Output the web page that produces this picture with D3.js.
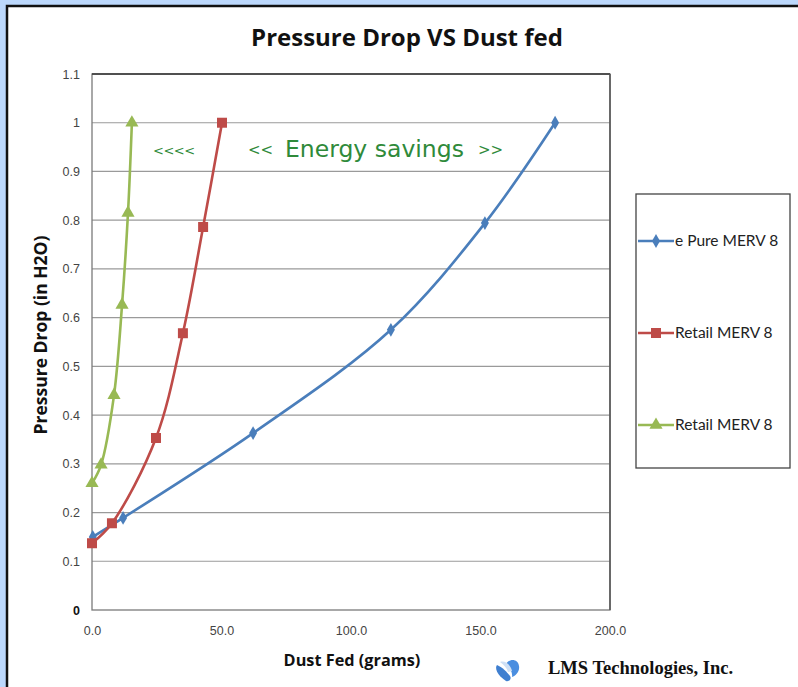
<!DOCTYPE html>
<html><head><meta charset="utf-8">
<script src="https://cdn.jsdelivr.net/npm/d3@7"></script>
<style>
html,body{margin:0;padding:0;background:#bcd8fc;}
svg{display:block;}
</style></head>
<body>
<script>
const seriesNames = ["e Pure MERV 8", "Retail MERV 8", "Retail MERV 8"];
const seriesColors = ["#4a7ebb", "#be4b48", "#98b954"];
const ePureX = [0.3, 12, 62.2, 115.4, 151.7, 178.8];
const ePureY = [0.150, 0.189, 0.363, 0.575, 0.794, 1.0];
const retailAX = [0, 7.7, 24.7, 35.1, 42.9, 50.2];
const retailAY = [0.137, 0.178, 0.353, 0.568, 0.786, 1.0];
const retailBX = [0, 3.5, 8.5, 11.6, 13.9, 15.4];
const retailBY = [0.26, 0.298, 0.441, 0.626, 0.815, 1.0];
const xTicks = [0, 50, 100, 150, 200];
const yTicks = [0, 0.1, 0.2, 0.3, 0.4, 0.5, 0.6, 0.7, 0.8, 0.9, 1, 1.1];

const W = 798, H = 687;
const svg = d3.select("body").append("svg").attr("width", W).attr("height", H);

// frame
svg.append("rect").attr("x", 7).attr("y", 6).attr("width", W).attr("height", H)
  .attr("fill", "#fff").attr("stroke", "#111").attr("stroke-width", 2.5);

const L = 92, R = 610, T = 74, B = 610;
const x = d3.scaleLinear().domain([0, 200]).range([L, R]);
const y = d3.scaleLinear().domain([0, 1.1]).range([B, T]);

// gridlines
svg.append("g").selectAll("line").data(yTicks.slice(1, -1)).join("line")
  .attr("x1", L).attr("x2", R).attr("y1", d => y(d)).attr("y2", d => y(d))
  .attr("stroke", "#9a9a9a").attr("stroke-width", 1.2);

// plot border
svg.append("rect").attr("x", L).attr("y", T).attr("width", R - L).attr("height", B - T)
  .attr("fill", "none").attr("stroke", "#7a7a7a").attr("stroke-width", 1.3);
svg.append("line").attr("x1", L).attr("x2", R).attr("y1", T).attr("y2", T)
  .attr("stroke", "#333").attr("stroke-width", 1.5);
svg.append("line").attr("x1", R).attr("x2", R).attr("y1", T).attr("y2", B)
  .attr("stroke", "#555").attr("stroke-width", 1.5);

// axes
const yAxis = d3.axisLeft(y).tickValues(yTicks).tickSize(0).tickPadding(12)
  .tickFormat(d => d3.format("~g")(d));
const gy = svg.append("g").attr("transform", `translate(${L},0)`).call(yAxis);
gy.select(".domain").remove();
gy.selectAll("text").attr("font-family", "Liberation Sans, sans-serif").attr("font-size", 12.5).attr("fill", "#444");
gy.selectAll("text").filter(d => d === 0).attr("font-weight", "bold").attr("fill", "#111");

const xAxis = d3.axisBottom(x).tickValues(xTicks).tickSize(0).tickPadding(16)
  .tickFormat(d3.format(".1f"));
const gx = svg.append("g").attr("transform", `translate(0,${B})`).call(xAxis);
gx.select(".domain").remove();
gx.selectAll("text").attr("font-family", "Liberation Sans, sans-serif").attr("font-size", 12.5).attr("fill", "#444");

// titles
svg.append("text").attr("x", 407).attr("y", 46).attr("text-anchor", "middle")
  .attr("font-family", "Open Sans, sans-serif").attr("font-weight", "bold").attr("font-size", 24)
  .attr("fill", "#111").text("Pressure Drop VS Dust fed");
svg.append("text").attr("transform", "translate(47,335) rotate(-90)").attr("text-anchor", "middle")
  .attr("font-family", "Open Sans, sans-serif").attr("font-weight", "bold").attr("font-size", 17.5)
  .attr("fill", "#111").text("Pressure Drop (in H2O)");
svg.append("text").attr("x", 352).attr("y", 666).attr("text-anchor", "middle")
  .attr("font-family", "Open Sans, sans-serif").attr("font-weight", "bold").attr("font-size", 16.3)
  .attr("fill", "#111").text("Dust Fed (grams)");

// annotation
const green = "#2f8a3a";
svg.append("text").attr("x", 153).attr("y", 155)
  .attr("font-family", "DejaVu Sans, sans-serif").attr("font-size", 13).attr("letter-spacing", -0.5).attr("fill", green)
  .text("<<<<");
svg.append("text").attr("x", 248).attr("y", 155)
  .attr("font-family", "DejaVu Sans, sans-serif").attr("font-size", 15).attr("fill", green)
  .text("<<");
svg.append("text").attr("x", 285).attr("y", 157)
  .attr("font-family", "DejaVu Sans, sans-serif").attr("font-size", 23.5).attr("fill", green)
  .text("Energy savings");
svg.append("text").attr("x", 478).attr("y", 155)
  .attr("font-family", "DejaVu Sans, sans-serif").attr("font-size", 15).attr("fill", green)
  .text(">>");

// series
const series = [
  {xs: ePureX, ys: ePureY, shape: d3.symbolDiamond, size: 55},
  {xs: retailAX, ys: retailAY, shape: d3.symbolSquare, size: 100},
  {xs: retailBX, ys: retailBY, shape: d3.symbolTriangle, size: 75}
];
const line = d3.line().x(d => x(d[0])).y(d => y(d[1])).curve(d3.curveCatmullRom.alpha(0.5));
series.forEach((s, i) => {
  const pts = s.xs.map((v, j) => [v, s.ys[j]]);
  svg.append("path").datum(pts).attr("d", line).attr("fill", "none")
    .attr("stroke", seriesColors[i]).attr("stroke-width", 2.6);
  svg.append("g").selectAll("path").data(pts).join("path")
    .attr("transform", d => `translate(${x(d[0])},${y(d[1])})`)
    .attr("d", d3.symbol().type(s.shape).size(s.size)).attr("fill", seriesColors[i]);
});

// legend
const lg = svg.append("g");
lg.append("rect").attr("x", 636).attr("y", 194).attr("width", 154).attr("height", 274)
  .attr("fill", "#fff").attr("stroke", "#444").attr("stroke-width", 1.3);
const legY = [241, 333, 425];
series.forEach((s, i) => {
  lg.append("line").attr("x1", 638).attr("x2", 674).attr("y1", legY[i]).attr("y2", legY[i])
    .attr("stroke", seriesColors[i]).attr("stroke-width", 2.6);
  lg.append("path").attr("transform", `translate(656,${legY[i]})`)
    .attr("d", d3.symbol().type(s.shape).size(s.size)).attr("fill", seriesColors[i]);
  lg.append("text").attr("x", 675).attr("y", legY[i] + 5)
    .attr("font-family", "Lato, sans-serif").attr("font-size", 15.5).attr("fill", "#222")
    .text(seriesNames[i]);
});

// logo
const logo = svg.append("g").attr("transform", "translate(507,669)");
logo.append("path").attr("d", "M-10,-4 C-13,0 -8,8 -1,12 C2,13 5,10 3,7 C0,3 -5,-2 -10,-4Z").attr("fill", "#3f7fd0");
logo.append("path").attr("d", "M-1,-5 C3,-11 11,-10 12,-3 C13,2 9,7 5,8 C6,3 2,-2 -1,-5Z").attr("fill", "#4a8ee0");
logo.append("path").attr("d", "M-7,-7 C-2,-9 4,-4 5,2 L1,3 C0,-1 -3,-4 -7,-7Z").attr("fill", "#cfe0f5");
svg.append("text").attr("x", 548).attr("y", 674)
  .attr("font-family", "Liberation Serif, serif").attr("font-weight", "bold").attr("font-size", 18.5)
  .attr("fill", "#111").text("LMS Technologies, Inc.");
</script>
</body></html>
